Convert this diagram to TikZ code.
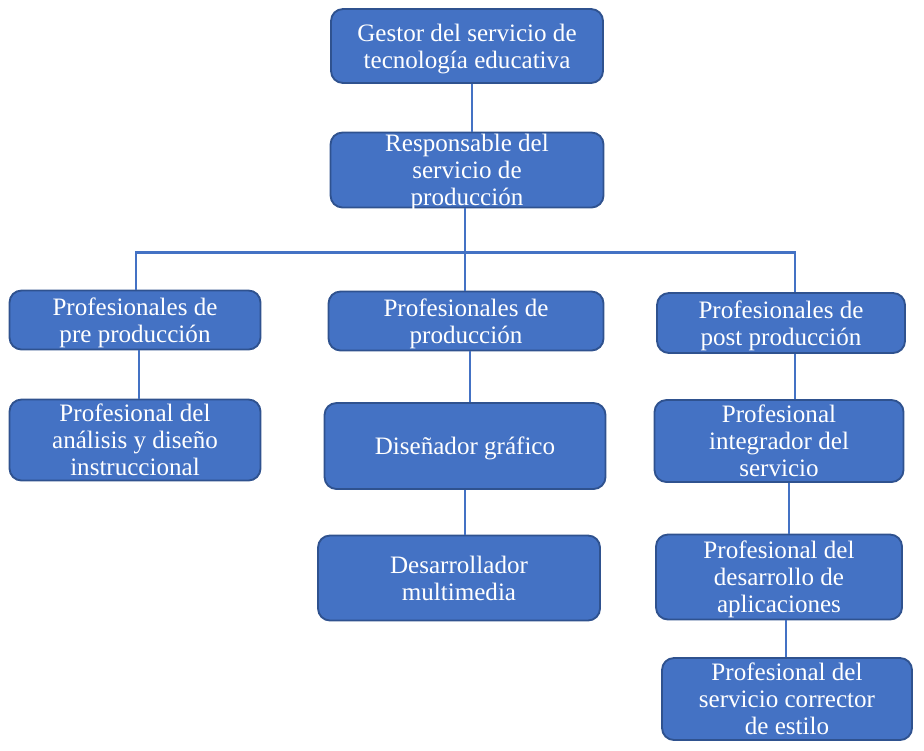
\documentclass[tikz,border=0pt]{standalone}
\usepackage{fontspec}
\setmainfont{Liberation Serif}
\usetikzlibrary{positioning, calc}
\definecolor{cajaazul}{HTML}{4472C4}
\definecolor{bordeazul}{HTML}{2F528F}

\begin{document}
\begin{tikzpicture}[
        x=0.75pt, y=-0.75pt,
        puesto/.style={draw=bordeazul, fill=cajaazul, rounded corners=9pt,
                       line width=1.4pt, align=center, text=white, inner sep=1pt,
                       text depth=-1pt,
                       font=\fontsize{18.8}{20.3}\selectfont},
        enlace/.style={draw=cajaazul, line width=1.6pt},
    ]
        \useasboundingbox (0,0) rectangle (924,750);

        \node[puesto, minimum width=272*0.75pt, minimum height=74*0.75pt] (gestor) at (467,46)
            {Gestor del servicio de\\tecnología educativa};
        \node[puesto, minimum width=273*0.75pt, minimum height=75*0.75pt] (resp) at (467,170)
            {Responsable del\\servicio de\\producción};

        \node[puesto, minimum width=251*0.75pt, minimum height=59*0.75pt] (pre) at (135,320)
            {Profesionales de\\pre producción};
        \node[puesto, minimum width=275*0.75pt, minimum height=59*0.75pt] (prod) at (466,321)
            {Profesionales de\\producción};
        \node[puesto, minimum width=248*0.75pt, minimum height=60*0.75pt] (post) at (781,323)
            {Profesionales de\\post producción};

        \node[puesto, minimum width=251*0.75pt, minimum height=81*0.75pt] (analisis) at (135,440)
            {Profesional del\\análisis y diseño\\instruccional};
        \node[puesto, minimum width=281*0.75pt, minimum height=86*0.75pt] (disenador) at (465,446)
            {Diseñador gráfico};
        \node[puesto, minimum width=282*0.75pt, minimum height=85*0.75pt] (multimedia) at (459,578)
            {Desarrollador\\multimedia};

        \node[puesto, minimum width=249*0.75pt, minimum height=82*0.75pt] (integrador) at (779,441)
            {Profesional\\integrador del\\servicio};
        \node[puesto, minimum width=246*0.75pt, minimum height=85*0.75pt] (aplicaciones) at (779,577)
            {Profesional del\\desarrollo de\\aplicaciones};
        \node[puesto, minimum width=250*0.75pt, minimum height=82*0.75pt] (corrector) at (787,699)
            {Profesional del\\servicio corrector\\de estilo};

        \coordinate (bus) at ($(resp.south)+(-2,44)$);

        \draw[enlace] ([xshift=3.75pt]gestor.south) -- ([xshift=3.75pt]resp.north);
        \draw[enlace] ([xshift=-1.5pt]resp.south) -- ([xshift=-1.5pt]resp.south |- prod.north);
        \draw[enlace] ([xshift=0.75pt]pre.north) |- (bus) -| ([xshift=10.5pt]post.north);
        \draw[enlace] ([xshift=3pt]pre.south) -- ([xshift=3pt]pre.south |- analisis.north);
        \draw[enlace] ([xshift=3pt]prod.south) -- ([xshift=3pt]prod.south |- disenador.north);
        \draw[enlace] (disenador.south) -- (disenador.south |- multimedia.north);
        \draw[enlace] ([xshift=10.5pt]post.south) -- ([xshift=10.5pt]post.south |- integrador.north);
        \draw[enlace] ([xshift=7.5pt]integrador.south) -- ([xshift=7.5pt]integrador.south |- aplicaciones.north);
        \draw[enlace] ([xshift=5.25pt]aplicaciones.south) -- ([xshift=5.25pt]aplicaciones.south |- corrector.north);
    \end{tikzpicture}
\end{document}
